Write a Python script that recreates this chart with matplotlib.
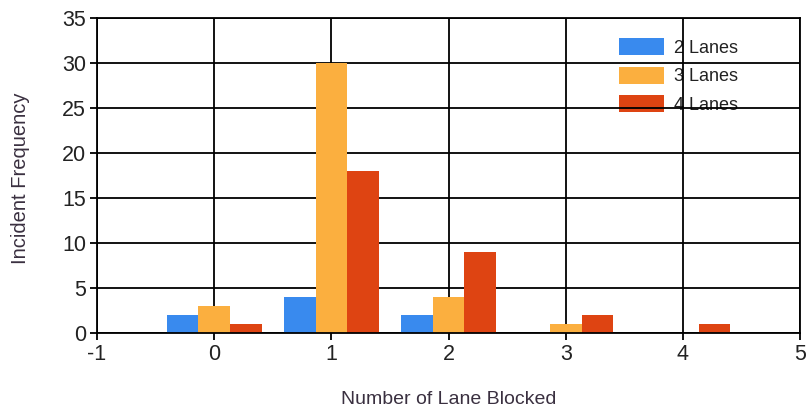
import matplotlib
matplotlib.use("Agg")
import matplotlib.pyplot as plt
import numpy as np

categories = [0, 1, 2, 3, 4]
series_names = ["2 Lanes", "3 Lanes", "4 Lanes"]
lanes2 = [2, 4, 2, 0, 0]
lanes3 = [3, 30, 4, 1, 0]
lanes4 = [1, 18, 9, 2, 1]
colors = ["#398AEE", "#FBAF3F", "#DE4412"]

plt.rcParams['font.family'] = ['Liberation Sans', 'DejaVu Sans']
plt.rcParams['axes.unicode_minus'] = False

fig = plt.figure(figsize=(8.1, 4.15), dpi=100)
ax = fig.add_axes([0.1198, 0.1976, 0.868, 0.759])

x = np.array(categories, dtype=float)
w = 0.27
for i, (vals, name, c) in enumerate(zip([lanes2, lanes3, lanes4], series_names, colors)):
    ax.bar(x + (i - 1) * w, vals, width=w, color=c, label=name, zorder=2)

ax.set_xlim(-1, 5)
ax.set_ylim(0, 35)
ax.set_xticks(range(-1, 6))
ax.set_yticks(range(0, 36, 5))
ax.grid(True, color="black", linewidth=1.3, zorder=1)
ax.set_axisbelow(True)
for s in ax.spines.values():
    s.set_color("black")
    s.set_linewidth(1.3)
ax.tick_params(axis='both', direction='out', length=5, width=1.3, colors='black',
               labelsize=15.5, labelcolor='#222222', pad=3)
ax.set_xlabel("Number of Lane Blocked", fontsize=14, color='#3a3040')
ax.set_ylabel("Incident Frequency", fontsize=14.5, color='#3a3040')
ax.xaxis.set_label_coords(0.5, -0.185)
ax.yaxis.set_label_coords(-0.095, 0.49)

leg = ax.legend(loc='upper left', bbox_to_anchor=(0.7425, 0.935), frameon=False,
                fontsize=13, handlelength=2.5, handleheight=1.05, handletextpad=0.55,
                labelspacing=0.55, borderpad=0, borderaxespad=0)
for t in leg.get_texts():
    t.set_color('#222222')
leg.set_zorder(0.2)

fig.savefig("out.png", dpi=100, facecolor="white")
